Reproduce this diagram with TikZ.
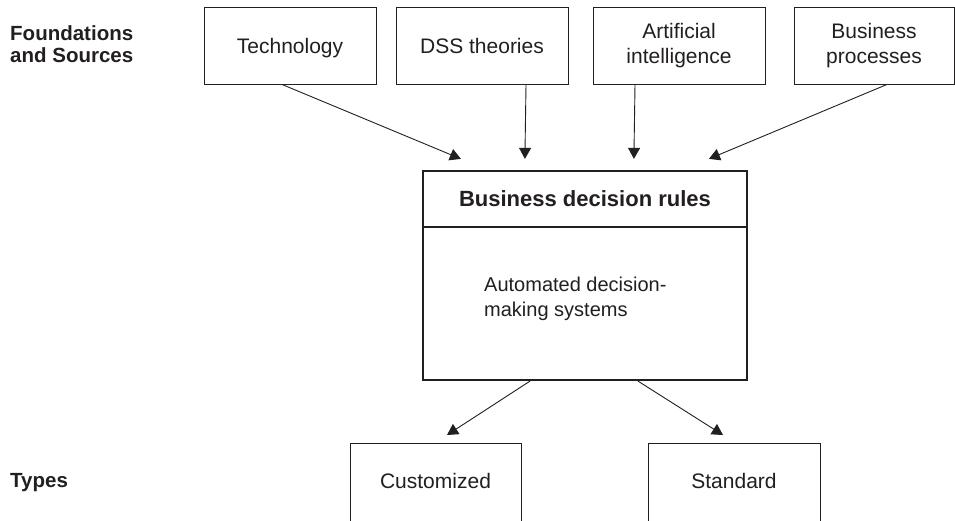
\documentclass[tikz,border=0pt]{standalone}
\usepackage{fontspec}
\setmainfont{Liberation Sans}
\usetikzlibrary{arrows.meta,calc}
\definecolor{ink}{HTML}{231F20}
\tikzset{
  box/.style={draw=ink, line width=0.9pt, rectangle, inner sep=0pt, align=center, text=ink,
              font=\fontsize{21}{25}\selectfont},
  one/.style={text height=18pt, text depth=3pt},
  mainbox/.style={draw=ink, line width=2.2pt, rectangle, inner sep=0pt, text=ink},
  lbl/.style={inner sep=0pt, text=ink, align=left, font=\fontsize{20.5}{22}\selectfont\bfseries},
  txt/.style={inner sep=0pt, text=ink, align=left, font=\fontsize{20}{25}\selectfont},
  arr/.style={draw=ink, line width=0.9pt, -{Triangle[length=11pt,width=12pt]}}
}
\begin{document}
\begin{tikzpicture}[x=1pt,y=-1pt]
\clip (0,0) rectangle (955,520);
\fill[white] (0,0) rectangle (955,520);
% left labels
\node[lbl, anchor=west] (found) at (10,44) {Foundations\\and Sources};
\node[lbl, anchor=west] (types) at (10,483) {Types};
% top boxes
\node[box, one, minimum width=172, minimum height=77] (tech) at (290,45.5) {Technology};
\node[box, one, minimum width=172, minimum height=77] (dss) at (482,45.5) {DSS theories};
\node[box, minimum width=172, minimum height=77] (ai) at (679,45.5) {Artificial\\intelligence};
\node[box, minimum width=160, minimum height=77] (bp) at (874,45.5) {Business\\processes};
% central box
\node[mainbox, minimum width=324, minimum height=56, font=\fontsize{22}{25}\selectfont\bfseries] (rules) at (585,199) {Business decision rules};
\node[mainbox, minimum width=324, minimum height=153] (adm) at (585,303.5) {};
\node[txt, anchor=west] (admt) at (484,299) {Automated decision-\\making systems};
% bottom boxes
\node[box, minimum width=171, minimum height=95, anchor=north] (cust) at (435.5,443) {};
\node[box, one, draw=none] (custt) at (435.5,480.5) {Customized};
\node[box, minimum width=172, minimum height=95, anchor=north] (stand) at (734,443) {};
\node[box, one, draw=none] (standt) at (734,480.5) {Standard};
% arrows in
\draw[arr] ($(tech.south)+(-8,0)$) -- ($(rules.north west)+(39,-11)$);
\draw[arr] (dss.south -| 526,0) -- ($(rules.north west)+(103,-11)$);
\draw[arr] (ai.south -| 635,0) -- ($(rules.north west)+(212,-11)$);
\draw[arr] ($(bp.south)+(13,0)$) -- ($(rules.north west)+(287,-11)$);
% arrows out
\draw[arr] ($(adm.south)+(-55,0)$) -- ($(cust.north)+(11.5,-8)$);
\draw[arr] ($(adm.south)+(53,0)$) -- ($(stand.north)+(-11,-8)$);
\end{tikzpicture}
\end{document}
